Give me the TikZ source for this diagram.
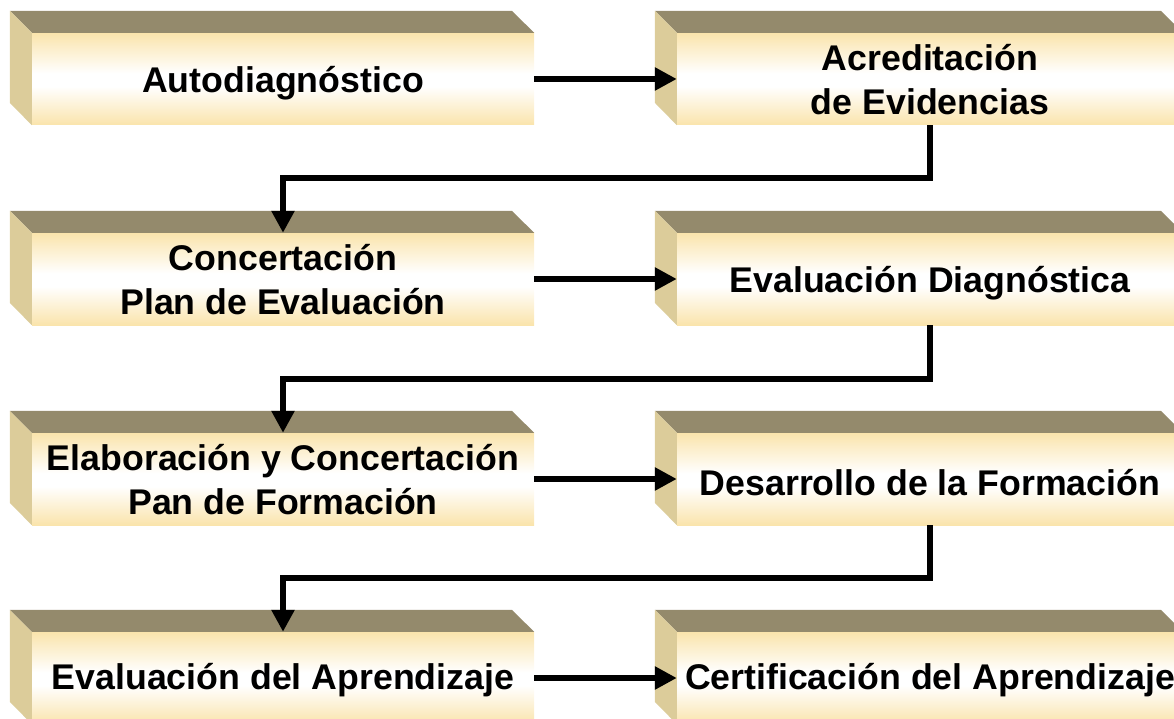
\documentclass[tikz,border=0pt]{standalone}
\usepackage{fontspec}
\setmainfont{Liberation Sans}
\usetikzlibrary{arrows.meta}
\definecolor{topc}{HTML}{948A6C}
\definecolor{sidec}{HTML}{DCCC9A}
\definecolor{fronty}{HTML}{FAE4AC}
\pgfdeclareverticalshading{frontshade}{100bp}{color(0bp)=(fronty); color(25bp)=(fronty); color(46bp)=(white); color(53bp)=(white); color(75bp)=(fronty); color(100bp)=(fronty)}
% name, cx, cy, width, text, text shift
\newcommand{\cubebox}[6]{%
  \node[frontbox, minimum width=#4pt] (#1) at (#2,#3) {};
  \node[boxtext] (#1t) at ([yshift=#6]#1.center) {#5};
  \fill[topc] (#1.north west) -- ++(-22,-22) -- ++(#4,0) -- (#1.north east) -- cycle;
  \fill[sidec] (#1.north west) -- ++(-22,-22) -- ++(0,92) -- (#1.south west) -- cycle;
}
\begin{document}
\begin{tikzpicture}[x=1pt,y=-1pt,
  frontbox/.style={shade, shading=frontshade, minimum height=92pt, inner sep=0pt},
  boxtext/.style={inner sep=0pt, align=center, font=\fontsize{35.7pt}{44pt}\selectfont\bfseries},
  conn/.style={line width=6.3pt, line join=miter, -{Triangle[length=22pt,width=22pt]}}]
\useasboundingbox (0,0) rectangle (1174,719);
\clip (0,0) rectangle (1174,719);
\cubebox{a1}{283}{79}{502}{Autodiagnóstico}{-4pt}
\cubebox{b1}{930}{79}{506}{Acreditación\\de Evidencias}{-1pt}
\cubebox{a2}{283}{279}{502}{Concertación\\Plan de Evaluación}{-1pt}
\cubebox{b2}{930}{279}{506}{Evaluación Diagnóstica}{-4pt}
\cubebox{a3}{283}{479}{502}{Elaboración y Concertación\\Pan de Formación}{-1pt}
\cubebox{b3}{930}{479}{506}{Desarrollo de la Formación}{-4pt}
\cubebox{a4}{283}{678}{502}{Evaluación del Aprendizaje}{-2pt}
\cubebox{b4}{930}{678}{506}{Certificación del Aprendizaje}{-2pt}
\draw[conn] (a1.east) -- (b1.west);
\draw[conn] (a2.east) -- (b2.west);
\draw[conn] (a3.east) -- (b3.west);
\draw[conn] (a4.east) -- (b4.west);
\draw[conn] (b1.south) -- ++(0,53) -| (a2.north);
\draw[conn] (b2.south) -- ++(0,54) -| (a3.north);
\draw[conn] (b3.south) -- ++(0,53) -| (a4.north);
\end{tikzpicture}
\end{document}
